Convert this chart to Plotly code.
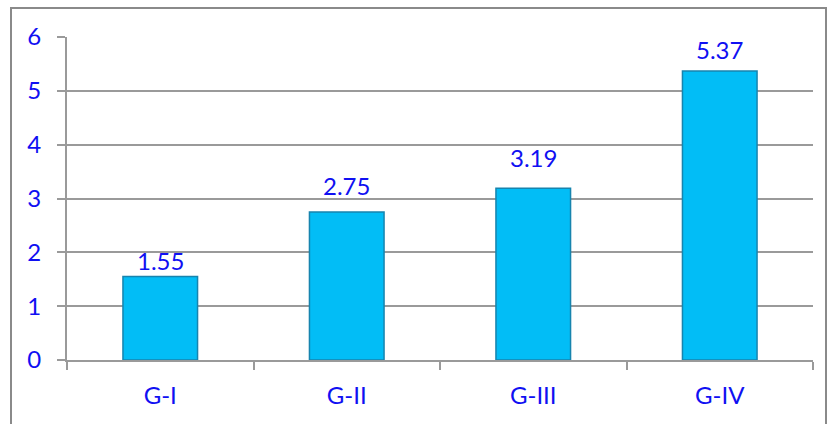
import plotly.graph_objects as go

categories = ["G-I", "G-II", "G-III", "G-IV"]
values = [1.55, 2.75, 3.19, 5.37]
value_labels = ["1.55", "2.75", "3.19", "5.37"]
y_ticks = [0, 1, 2, 3, 4, 5, 6]

# pixel lift of each value label above its bar (label placement, not data)
label_lift = [0, 10, 14, 5]

W, H = 830, 424
ML, MR, MT, MB = 67, 17, 37, 64
FONT = "Lato, 'Open Sans', sans-serif"
FS = 24
BLUE = "#1010F2"
GRID = "#9a9a9a"

fig = go.Figure()
fig.add_trace(go.Bar(
    x=categories, y=values,
    marker=dict(color="#02BDF6", line=dict(color="#1784AE", width=1.5)),
    width=0.4,
))

for c, v, t, s in zip(categories, values, value_labels, label_lift):
    fig.add_annotation(x=c, y=v, text=t, showarrow=False, yanchor="bottom",
                       yshift=s, font=dict(family=FONT, size=FS, color=BLUE))

pw = W - ML - MR
ph = H - MT - MB
def px_x(p):
    return (p - ML) / pw
def px_y(p):
    return (H - MB - p) / ph

fig.add_shape(type="rect", xref="paper", yref="paper",
              x0=px_x(11), x1=px_x(826), y0=px_y(440), y1=px_y(8),
              line=dict(color="#8a8a8a", width=2), fillcolor="rgba(0,0,0,0)",
              layer="below")

fig.update_layout(
    width=W, height=H,
    margin=dict(l=ML, r=MR, t=MT, b=MB),
    paper_bgcolor="white", plot_bgcolor="white",
    showlegend=False,
    font=dict(family=FONT, size=FS, color=BLUE),
    xaxis=dict(
        showline=True, linecolor=GRID, linewidth=2,
        ticks="outside", tickson="boundaries", ticklen=8, tickcolor=GRID, tickwidth=2,
        showgrid=False, tickfont=dict(family=FONT, size=FS, color=BLUE),
        ticklabelstandoff=13,
    ),
    yaxis=dict(
        range=[0, 6], tickvals=y_ticks, showline=True, linecolor=GRID, linewidth=2,
        ticks="outside", ticklen=8, tickcolor=GRID, tickwidth=2,
        showgrid=True, gridcolor=GRID, gridwidth=2, zeroline=False,
        tickfont=dict(family=FONT, size=FS, color=BLUE),
        ticklabelstandoff=11,
    ),
)

fig.write_html("out.html")
